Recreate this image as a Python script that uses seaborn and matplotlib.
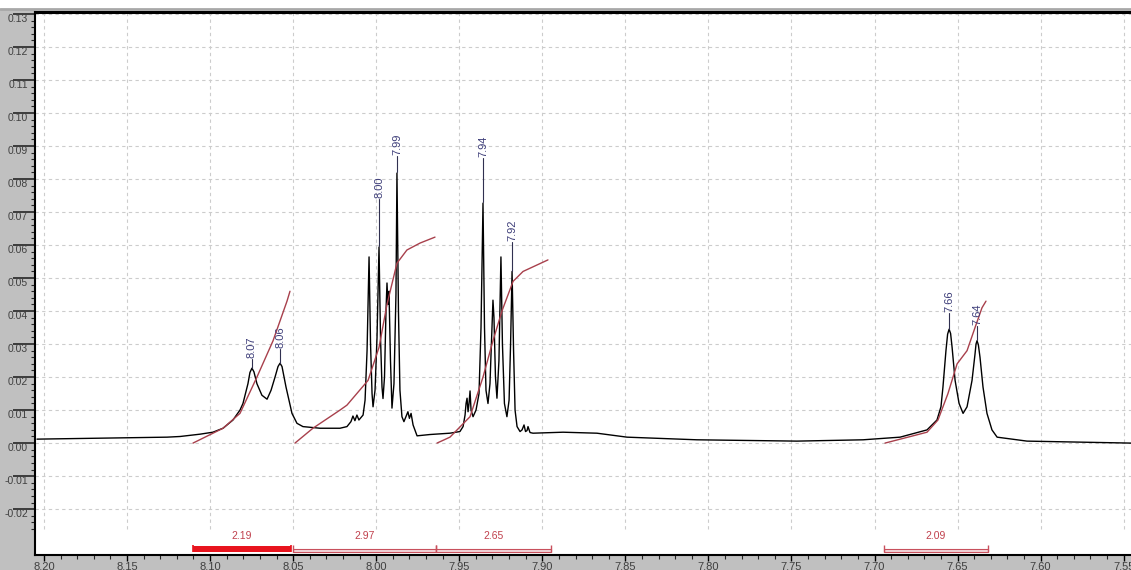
import matplotlib
matplotlib.use("Agg")
import matplotlib.pyplot as plt
from matplotlib.lines import Line2D
from matplotlib.patches import Rectangle
from matplotlib.ticker import MultipleLocator, FixedLocator
import seaborn as sns
import pandas as pd
import numpy as np

# spectrum trace (ppm, intensity)
shift = [8.2042, 8.1663, 8.1259, 8.1181, 8.1061, 8.0983, 8.0922, 8.0862, 8.0820, 8.0802,
         8.0772, 8.0760, 8.0748, 8.0736, 8.0718, 8.0688, 8.0657, 8.0633, 8.0609, 8.0591,
         8.0579, 8.0567, 8.0543, 8.0507, 8.0477, 8.0441, 8.0338, 8.0218, 8.0176, 8.0152,
         8.0140, 8.0128, 8.0116, 8.0104, 8.0079, 8.0067, 8.0055, 8.0043, 8.0034, 8.0025,
         8.0019, 8.0007, 7.9995, 7.9983, 7.9974, 7.9965, 7.9959, 7.9950, 7.9941, 7.9935,
         7.9929, 7.9923, 7.9914, 7.9905, 7.9893, 7.9881, 7.9875, 7.9866, 7.9857, 7.9845,
         7.9833, 7.9821, 7.9809, 7.9800, 7.9790, 7.9778, 7.9754, 7.9676, 7.9556, 7.9496,
         7.9477, 7.9465, 7.9459, 7.9453, 7.9447, 7.9441, 7.9435, 7.9429, 7.9417, 7.9399,
         7.9381, 7.9369, 7.9357, 7.9348, 7.9339, 7.9327, 7.9315, 7.9303, 7.9297, 7.9291,
         7.9282, 7.9273, 7.9261, 7.9255, 7.9249, 7.9240, 7.9228, 7.9213, 7.9200, 7.9191,
         7.9182, 7.9173, 7.9164, 7.9152, 7.9134, 7.9122, 7.9110, 7.9101, 7.9092, 7.9086,
         7.9074, 7.9056, 7.8875, 7.8671, 7.8490, 7.8069, 7.7467, 7.7069, 7.6846, 7.6684,
         7.6624, 7.6600, 7.6588, 7.6570, 7.6560, 7.6551, 7.6542, 7.6533, 7.6515, 7.6491,
         7.6467, 7.6443, 7.6413, 7.6395, 7.6389, 7.6383, 7.6375, 7.6365, 7.6347, 7.6323,
         7.6293, 7.6262, 7.6082, 7.5480, 7.5456]
intensity = [0.0012, 0.0015, 0.0018, 0.0020, 0.0027, 0.0033, 0.0045, 0.0070, 0.0100, 0.0120,
             0.0180, 0.0214, 0.0227, 0.0216, 0.0180, 0.0145, 0.0133, 0.0160, 0.0200, 0.0232,
             0.0242, 0.0232, 0.0170, 0.0090, 0.0060, 0.0050, 0.0045, 0.0045, 0.0050, 0.0065,
             0.0082, 0.0068, 0.0085, 0.0070, 0.0085, 0.0130, 0.0280, 0.0564, 0.0300, 0.0150,
             0.0110, 0.0160, 0.0320, 0.0594, 0.0320, 0.0170, 0.0135, 0.0200, 0.0400, 0.0485,
             0.0420, 0.0460, 0.0250, 0.0106, 0.0180, 0.0450, 0.0818, 0.0400, 0.0160, 0.0080,
             0.0065, 0.0080, 0.0095, 0.0075, 0.0090, 0.0055, 0.0022, 0.0026, 0.0030, 0.0035,
             0.0050, 0.0085, 0.0120, 0.0136, 0.0095, 0.0120, 0.0158, 0.0100, 0.0080, 0.0100,
             0.0150, 0.0350, 0.0727, 0.0350, 0.0160, 0.0120, 0.0180, 0.0350, 0.0433, 0.0380,
             0.0200, 0.0136, 0.0250, 0.0400, 0.0564, 0.0300, 0.0120, 0.0080, 0.0130, 0.0300,
             0.0520, 0.0280, 0.0100, 0.0050, 0.0035, 0.0040, 0.0055, 0.0035, 0.0038, 0.0050,
             0.0032, 0.0030, 0.0033, 0.0030, 0.0018, 0.0010, 0.0006, 0.0010, 0.0018, 0.0040,
             0.0070, 0.0110, 0.0170, 0.0280, 0.0330, 0.0345, 0.0332, 0.0290, 0.0190, 0.0120,
             0.0090, 0.0110, 0.0190, 0.0270, 0.0300, 0.0310, 0.0298, 0.0260, 0.0170, 0.0090,
             0.0040, 0.0018, 0.0006, 0.0000, 0.0000]

# integral curves
int1_ppm = [8.1103, 8.0922, 8.0820, 8.0718, 8.0621, 8.0537, 8.0519]
int1_val = [0.0, 0.0045, 0.0090, 0.0200, 0.0310, 0.0430, 0.0460]
int2_ppm = [8.0489, 8.0381, 8.0218, 8.0176, 8.0049, 7.9983, 7.9935, 7.9875, 7.9815, 7.9736, 7.9646]
int2_val = [0.0, 0.0045, 0.0100, 0.0115, 0.0190, 0.0290, 0.0420, 0.0545, 0.0585, 0.0606, 0.0624]
int3_ppm = [7.9634, 7.9556, 7.9435, 7.9357, 7.9297, 7.9243, 7.9176, 7.9116, 7.8966]
int3_val = [0.0, 0.0018, 0.0080, 0.0200, 0.0310, 0.0400, 0.0490, 0.0520, 0.0555]
int4_ppm = [7.6937, 7.6684, 7.6618, 7.6558, 7.6503, 7.6443, 7.6395, 7.6353, 7.6329]
int4_val = [0.0, 0.0033, 0.0070, 0.0150, 0.0240, 0.0280, 0.0350, 0.0410, 0.0430]

# integration regions
region_start = [8.1103, 8.0501, 7.9640, 7.6943]
region_end = [8.0513, 7.9640, 7.8948, 7.6317]
region_value = ["2.19", "2.97", "2.65", "2.09"]

# picked peaks
peak_ppm = [8.0748, 8.0579, 7.9983, 7.9875, 7.9357, 7.9182, 7.6551, 7.6383]
peak_height = [0.0227, 0.0242, 0.0594, 0.0818, 0.0727, 0.0520, 0.0345, 0.0310]
peak_text = ["8.07", "8.06", "8.00", "7.99", "7.94", "7.92", "7.66", "7.64"]

W, H = 1131, 570
sns.set_style("ticks")
plt.rcParams['font.family'] = ['Liberation Sans', 'DejaVu Sans']

fig = plt.figure(figsize=(W / 100, H / 100), dpi=100, facecolor="white")
panel = "#c0c0c0"
fig.add_artist(Rectangle((0, 0), 35 / W, 560 / H, transform=fig.transFigure,
                         color=panel, zorder=0))
fig.add_artist(Rectangle((0, 0), 1, 15 / H, transform=fig.transFigure,
                         color=panel, zorder=0))
fig.add_artist(Line2D([0, 1], [1 - 9 / H] * 2, transform=fig.transFigure,
                      color="#a8a8a8", lw=2))

ax = fig.add_axes([35 / W, 15 / H, (W - 35) / W, 543 / H])
ax.set_facecolor("white")
x_left, x_right = 8.2054, 7.5456
y_low, y_top = -0.0339, 0.1306
ax.set_xlim(x_left, x_right)
ax.set_ylim(y_low, y_top)

# grid (dashed, light)
grid_kw = dict(color="#cccccc", lw=0.8, linestyles=(0, (3, 3)), zorder=0)
xt = np.round(np.arange(8.20, 7.549, -0.05), 2)
yt = np.round(np.arange(-0.02, 0.1301, 0.01), 2)
ax.vlines(xt, -0.026, y_top, **grid_kw)
ax.hlines(yt, x_left, x_right, **grid_kw)

spec = pd.DataFrame({"ppm": shift, "intensity": intensity})
sns.lineplot(data=spec, x="ppm", y="intensity", color="black", lw=1,
             estimator=None, sort=False, ax=ax, zorder=3)

int_color = "#a8404c"
for xs, ys in [(int1_ppm, int1_val), (int2_ppm, int2_val),
               (int3_ppm, int3_val), (int4_ppm, int4_val)]:
    sns.lineplot(x=xs, y=ys, color=int_color, lw=1, estimator=None,
                 sort=False, ax=ax, zorder=4)

# peak labels
label_lift = [0.0028, 0.0043, 0.0145, 0.0052, 0.0137, 0.0089, 0.0049, 0.0045]
for p, h, t, lift in zip(peak_ppm, peak_height, peak_text, label_lift):
    top = h + lift
    ax.plot([p, p], [h + 0.0002, top], color="#303050", lw=0.8, zorder=5)
    ax.text(p, top + 0.0004, t, rotation=90, ha="center", va="bottom",
            fontsize=8, color="#3c3c78", zorder=6)

# integration bars
for i, (a, b, v) in enumerate(zip(region_start, region_end, region_value)):
    if i == 0:
        ax.add_patch(Rectangle((b, -0.0331), a - b, 0.0019, color="#e8141e",
                               lw=0, zorder=5))
        ax.vlines([a, b], -0.0330, -0.0310, color="#e8141e", lw=1.2, zorder=5)
    else:
        ax.add_patch(Rectangle((b, -0.0330), a - b, 0.0008, facecolor="#f2d6da",
                               edgecolor="#c8505c", lw=0.8, zorder=5))
        ax.vlines([a, b], -0.0330, -0.0310, color="#c8505c", lw=1.0, zorder=5)
    ax.text((a + b) / 2, -0.0282, v, ha="center", va="center", fontsize=7.5,
            color="#c0404c", zorder=6)

# axes styling
ax.spines["right"].set_visible(False)
ax.spines["top"].set_linewidth(2.2)
ax.spines["left"].set_linewidth(1.5)
ax.spines["bottom"].set_linewidth(1.5)
for s in ["top", "left", "bottom"]:
    ax.spines[s].set_color("black")

ax.xaxis.set_major_locator(FixedLocator(xt))
ax.xaxis.set_minor_locator(MultipleLocator(0.01))
ax.yaxis.set_major_locator(FixedLocator(yt))
ax.yaxis.set_minor_locator(FixedLocator(np.round(np.arange(-0.026, 0.1301, 0.002), 3)))
ax.set_xticklabels([f"{v:.2f}" for v in xt])
ax.set_yticklabels([f"{v:.2f}" for v in yt])

ax.tick_params(axis="x", which="major", direction="out", length=4.5, width=1,
               pad=0.5, labelsize=8, labelcolor="#404040", colors="black")
ax.tick_params(axis="x", which="minor", direction="out", length=3, width=0.8)
ax.tick_params(axis="y", which="major", direction="out", length=16, width=1.2,
               pad=-11, labelsize=7.5, labelcolor="#404040")
ax.tick_params(axis="y", which="minor", direction="out", length=3, width=0.8)
for lbl in ax.get_xticklabels():
    lbl.set_color("#404040")
for lbl in ax.get_yticklabels():
    lbl.set_verticalalignment("top")
    lbl.set_color("#404040")

ax.set_xlabel("")
ax.set_ylabel("")

fig.savefig("out.png", dpi=100, facecolor="white")
